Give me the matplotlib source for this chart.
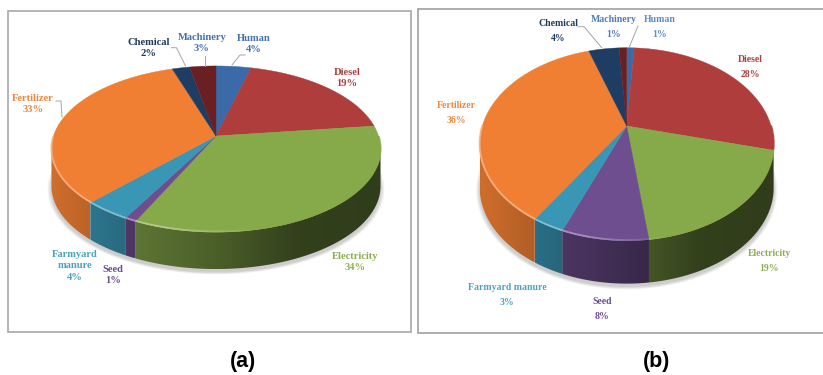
import numpy as np
import matplotlib
matplotlib.use("Agg")
import matplotlib.pyplot as plt
from matplotlib.collections import LineCollection
from matplotlib.patches import Polygon, Rectangle
from matplotlib.colors import to_rgb

categories = ["Human", "Diesel", "Electricity", "Seed", "Farmyard\nmanure",
              "Fertilizer", "Chemical", "Machinery"]
categories_b = ["Human", "Diesel", "Electricity", "Seed", "Farmyard manure",
                "Fertilizer", "Chemical", "Machinery"]
shares_a = [4, 19, 34, 1, 4, 33, 2, 3]
shares_b = [1, 28, 19, 8, 3, 36, 4, 1]

face_colors = ["#3b6aa8", "#ae3d3c", "#86a94a", "#6f4e8f",
               "#3a96b5", "#f07f33", "#1f3d63", "#6a2022"]
label_colors_a = ["#4472b0", "#a8403e", "#8cae50", "#6a4c93",
                  "#4aa3c0", "#f0873c", "#1f3a5f", "#4472b0"]
label_colors_b = ["#5f8cc4", "#a8403e", "#8cae50", "#6a4c93",
                  "#4aa3c0", "#f0873c", "#1f3a5f", "#4f7cb5"]

# Label anchors in figure pixels, same order as the categories
label_xy_a = [(254, 44), (347, 78), (355, 262), (113, 275),
              (75, 266), (33, 104), (149, 48), (202, 43)]
label_xy_b = [(660, 27), (750, 67), (769, 261), (602, 309),
              (507, 295), (456, 113), (558, 31), (614, 27)]

leaders_a = [[(232, 65), (240, 55), (245, 55)],
             [(205, 65.5), (205, 56)],
             [(185.5, 66), (176.5, 47.7), (171.5, 47.7)],
             [(62, 117), (61, 101), (56, 101)]]
leaders_b = [[(629, 47.7), (638, 26)],
             [(601.7, 47.7), (584, 26.7), (578, 26.7)]]


def project(theta, geom):
    """Map clockwise-from-top angles on a unit disc to the tilted pie plane."""
    cx, cy, rx, ry, k = geom
    x, y = np.sin(theta), np.cos(theta)
    w = 1 + k * y
    return cx + rx * x / w, cy - ry * y / w


def wall_shade(x):
    return np.interp(x, [-1, -0.6, 0, 0.5, 1], [0.86, 0.72, 0.56, 0.38, 0.36])


def arc(start, end):
    return np.linspace(start, end, max(int((end - start) * 80), 2) + 1)


def draw_pie(ax, values, geom, depth):
    fractions = np.asarray(values, float) / np.sum(values)
    edges = 2 * np.pi * np.concatenate([[0], np.cumsum(fractions)])
    cx, cy, rx, ry, k = geom

    # The wall only shows between the rightmost and leftmost rim points
    ring = np.linspace(0, 2 * np.pi, 1441)
    ring_x, _ = project(ring, geom)
    front_start, front_end = ring[np.argmax(ring_x)], ring[np.argmin(ring_x)]

    # Soft ground shadow
    for grow in np.linspace(1.025, 1.0, 9):
        px, py = project(ring, (cx, cy, rx * grow, ry * grow, k))
        ax.add_patch(Polygon(np.c_[px, py + depth + 3], closed=True,
                             fc="#555555", ec="none", alpha=0.035, zorder=1))

    # Side wall: a horizontal gradient, lit on the left and dark on the right
    for i, color in enumerate(face_colors):
        start, end = max(edges[i], front_start), min(edges[i + 1], front_end)
        if end <= start:
            continue
        px, py = project(arc(start, end), geom)
        outline = np.vstack([np.c_[px, py], np.c_[px[::-1], py[::-1] + depth]])
        x0, x1 = px.min(), max(px.max(), px.min() + 1)
        y0, y1 = py.min(), py.max() + depth
        columns = np.linspace(x0, x1, 128)
        strip = np.array(to_rgb(color))[None, None, :] * wall_shade((columns - cx) / rx)[None, :, None]
        image = ax.imshow(strip, extent=(x0, x1, y1, y0), aspect="auto",
                          interpolation="bilinear", zorder=2)
        image.set_clip_path(Polygon(outline, closed=True, transform=ax.transData))

    # Top face
    for i, color in enumerate(face_colors):
        px, py = project(arc(edges[i], edges[i + 1]), geom)
        pts = np.vstack([[cx, cy], np.c_[px, py]])
        ax.add_patch(Polygon(pts, closed=True, fc=color, ec=color, lw=0.3, zorder=3))

    # Bevel highlight along the front rim
    for i, color in enumerate(face_colors):
        px, py = project(arc(edges[i], edges[i + 1]), geom)
        base = np.array(to_rgb(color))
        segs, cols = [], []
        for j in range(len(px) - 1):
            if py[j] > cy and py[j + 1] > cy:
                mix = np.interp((px[j] - cx) / rx, [-1, -0.3, 0.3], [0.4, 0.4, 0.0])
                segs.append([(px[j], py[j] - 0.6), (px[j + 1], py[j + 1] - 0.6)])
                cols.append(base * (1 - mix) + mix)
        if segs:
            ax.add_collection(LineCollection(segs, colors=cols, linewidths=1.3, zorder=4))


def draw_labels(ax, names, values, colors, anchors, size, spacing):
    for name, val, col, (x, y) in zip(names, values, colors, anchors):
        ax.text(x, y, f"{name}\n{val}%", color=col, ha="center", va="center",
                family="Liberation Serif", weight="bold", fontsize=size,
                linespacing=spacing, zorder=6)


fig = plt.figure(figsize=(8.23, 3.75), dpi=100, facecolor="white")
ax = fig.add_axes([0, 0, 1, 1])
ax.axis("off")

ax.add_patch(Rectangle((8, 11), 403, 321, fc="white", ec="#a8a8a8", lw=1.2, zorder=0))
ax.add_patch(Rectangle((418.5, 9), 410, 324, fc="white", ec="#a0a0a0", lw=1.2, zorder=0))

draw_pie(ax, shares_a, (216, 136, 162.5, 81, 0.1566), 37)
draw_pie(ax, shares_b, (626.7, 126, 144.4, 93, 0.1886), 43)

draw_labels(ax, categories, shares_a, label_colors_a, label_xy_a, 7.6, 1.3)
draw_labels(ax, categories_b, shares_b, label_colors_b, label_xy_b, 7.0, 1.75)

for path in leaders_a + leaders_b:
    xs, ys = zip(*path)
    ax.plot(xs, ys, color="#a6a6a6", lw=0.7, zorder=5)

for text, x in (("(a)", 243.5), ("(b)", 656.5)):
    ax.text(x, 361, text, ha="center", va="center", family="Liberation Sans",
            weight="bold", fontsize=15.5, color="black")

ax.set_xlim(0, 823)
ax.set_ylim(375, 0)

fig.savefig("out.png", dpi=100)
